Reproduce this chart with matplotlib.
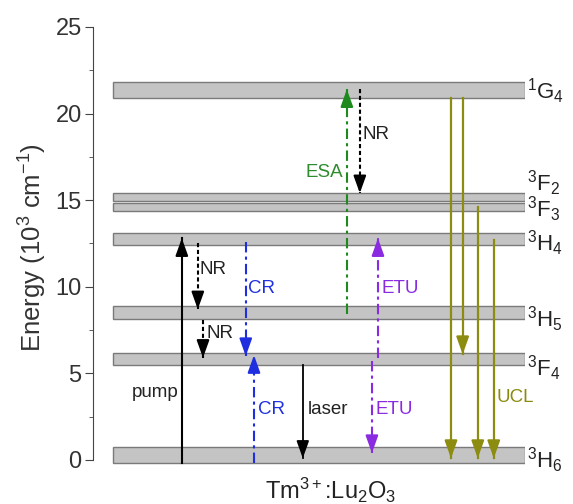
import matplotlib.pyplot as plt

plt.rcParams['font.family'] = ['Liberation Sans', 'DejaVu Sans']
plt.rcParams['mathtext.fontset'] = 'custom'
plt.rcParams['mathtext.rm'] = 'Liberation Sans'
plt.rcParams['mathtext.it'] = 'Liberation Sans:italic'
plt.rcParams['mathtext.bf'] = 'Liberation Sans:bold'

# energy levels (10^3 cm^-1): lower / upper edge of each band
level_names = ['$^3$H$_6$', '$^3$F$_4$', '$^3$H$_5$', '$^3$H$_4$', '$^3$F$_3$', '$^3$F$_2$', '$^1$G$_4$']
level_lo = [-0.15, 5.5, 8.15, 12.4, 14.35, 14.95, 20.9]
level_hi = [0.75, 6.2, 8.9, 13.1, 14.85, 15.4, 21.8]
label_y = [0.0, 5.3, 8.1, 12.5, 14.45, 16.0, 21.3]

# transitions: x position, start, end
pump = [20.6, -0.15, 12.8]
nr = [[24.3, 12.5, 8.7], [25.5, 8.1, 5.9], [61.8, 21.4, 15.4]]
cr = [[35.4, 12.6, 6.0], [37.3, -0.15, 6.05]]
laser = [48.6, 5.5, 0.1]
esa = [58.8, 8.4, 21.4]
etu = [[64.6, 5.7, 0.4], [66.0, 5.9, 12.8]]
ucl = [[82.9, 20.9, 0.1], [85.6, 20.9, 6.1], [89.1, 14.6, 0.1], [92.8, 12.7, 0.1]]

# text labels: text, x, y, alignment, colour
labels = [
    ('pump', 19.8, 3.9, 'right', '#222222'),
    ('NR', 24.8, 11.0, 'left', '#222222'),
    ('NR', 26.4, 7.3, 'left', '#222222'),
    ('CR', 35.9, 9.9, 'left', '#1f2fe0'),
    ('CR', 38.2, 2.9, 'left', '#1f2fe0'),
    ('laser', 49.8, 2.9, 'left', '#222222'),
    ('ESA', 57.9, 16.6, 'right', '#2e8b2e'),
    ('NR', 62.4, 18.8, 'left', '#222222'),
    ('ETU', 66.9, 9.9, 'left', '#8a2be2'),
    ('ETU', 65.5, 2.9, 'left', '#8a2be2'),
    ('UCL', 93.4, 3.6, 'left', '#8a8a10'),
]

fig = plt.figure(figsize=(5.73, 5.04), dpi=100)
ax = fig.add_axes([0.162, 0.053, 0.754, 0.9107])
ax.set_xlim(0, 100)
ax.set_ylim(-1, 25.5)

for lo, hi in zip(level_lo, level_hi):
    ax.barh((lo + hi) / 2, 95.4, height=hi - lo, left=4.6,
            color='#c4c4c4', edgecolor='#7a7a7a', linewidth=1.0, zorder=1)
for name, y in zip(level_names, label_y):
    ax.text(100.6, y, name, fontsize=16, color='#222222', va='center', ha='left', clip_on=False)


def arrow(x, y0, y1, color, ls='-', lw=1.5):
    ax.plot([x, x], [y0, y1], color=color, linestyle=ls, linewidth=lw, zorder=3)
    d = 0.8 if y1 > y0 else -0.8
    ax.annotate('', xy=(x, y1), xytext=(x, y1 - d),
                arrowprops=dict(arrowstyle='-|>,head_length=0.75,head_width=0.27',
                                color=color, lw=lw, mutation_scale=14,
                                shrinkA=0, shrinkB=0), zorder=4)


arrow(*pump, 'black')
arrow(*laser, 'black', lw=1.3)
for a in nr:
    arrow(*a, 'black', ls=(0, (2, 1.3)))
for a in cr:
    arrow(*a, '#1f2fe0', ls=(0, (5, 2, 1.5, 2)))
arrow(*esa, '#1e8a1e', ls=(0, (5, 2, 1.5, 2)))
for a in etu:
    arrow(*a, '#8a2be2', ls=(0, (5, 2, 1.5, 2)))
for a in ucl:
    arrow(*a, '#8c8c10', lw=1.6)

for txt, x, y, ha, c in labels:
    ax.text(x, y, txt, fontsize=13.5, color=c, ha=ha, va='center', zorder=5)

ax.text(55.0, -1.75, 'Tm$^{3+}$:Lu$_2$O$_3$', fontsize=17, color='#222222',
        ha='center', va='center', clip_on=False)

for s in ['top', 'right', 'bottom']:
    ax.spines[s].set_visible(False)
ax.spines['left'].set_bounds(0, 25)
ax.spines['left'].set_color('#444444')
ax.set_xticks([])
ax.set_yticks([0, 5, 10, 15, 20, 25])
ax.set_yticks([2.5, 7.5, 12.5, 17.5, 22.5], minor=True)
ax.tick_params(axis='y', which='major', length=6, pad=2, labelsize=17, labelcolor='#333333', color='#444444')
ax.tick_params(axis='y', which='minor', length=3, color='#444444')
ax.set_ylabel('Energy (10$^3$ cm$^{-1}$)', fontsize=18.5, color='#333333', labelpad=5)

plt.savefig('out.png')
